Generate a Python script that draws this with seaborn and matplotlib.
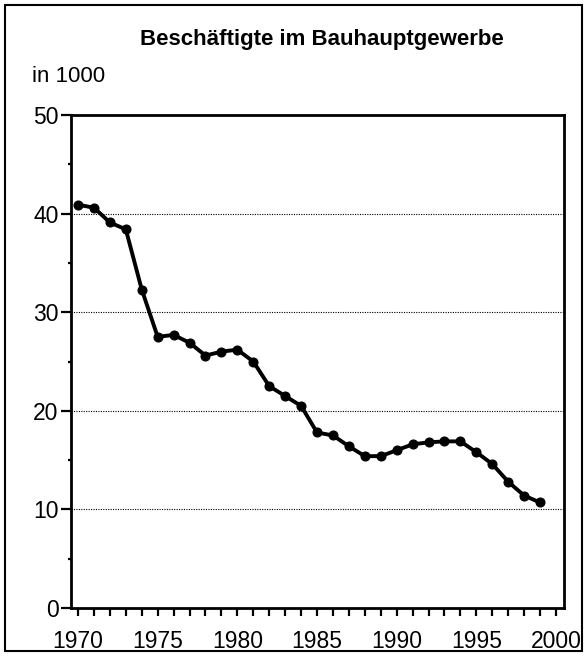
import matplotlib
matplotlib.use("Agg")
import matplotlib.pyplot as plt
import seaborn as sns
import pandas as pd
from matplotlib.patches import Rectangle
from matplotlib.ticker import MultipleLocator

years = list(range(1970, 2000))
employed = [40.9, 40.6, 39.1, 38.4, 32.3, 27.5, 27.7, 26.9, 25.6, 26.0,
            26.2, 25.0, 22.5, 21.5, 20.5, 17.8, 17.5, 16.4, 15.4, 15.4,
            16.0, 16.6, 16.8, 16.9, 16.9, 15.8, 14.6, 12.8, 11.4, 10.7]

title = "Beschäftigte im Bauhauptgewerbe"
unit_label = "in 1000"
y_ticks = [0, 10, 20, 30, 40, 50]
x_ticks = [1970, 1975, 1980, 1985, 1990, 1995, 2000]

df = pd.DataFrame({"Jahr": years, "Beschaeftigte": employed})

sns.set_style("ticks")
plt.rcParams["font.family"] = ["Liberation Sans", "DejaVu Sans"]
plt.rcParams["text.color"] = "black"
plt.rcParams["xtick.color"] = "black"
plt.rcParams["ytick.color"] = "black"

fig = plt.figure(figsize=(5.86, 6.56), dpi=100)
ax = fig.add_axes([71 / 586, 1 - 608 / 656, (564 - 71) / 586, (608 - 115) / 656])

sns.lineplot(data=df, x="Jahr", y="Beschaeftigte", ax=ax, color="black",
             linewidth=2.8, marker="o", markersize=6.5, markeredgecolor="black")

ax.set_xlim(1969.56, 2000.5)
ax.set_ylim(0, 50)
ax.set_xticks(x_ticks)
ax.set_yticks(y_ticks)
ax.xaxis.set_minor_locator(MultipleLocator(1))
ax.yaxis.set_minor_locator(MultipleLocator(5))
ax.set_xlabel("")
ax.set_ylabel("")

for v in y_ticks[1:-1]:
    ax.axhline(v, color="black", linestyle=(0, (1, 1.2)), linewidth=0.8, zorder=0)

for s in ax.spines.values():
    s.set_linewidth(2.0)
    s.set_color("black")
    s.set_visible(True)

ax.tick_params(axis="x", which="both", direction="out", length=6, width=1.6,
               labelsize=16.5, pad=10)
ax.tick_params(axis="y", which="major", direction="out", length=7, width=1.6,
               labelsize=16.5, pad=2)
ax.tick_params(axis="y", which="minor", direction="out", length=2, width=1.6)

fig.text(322 / 586, 1 - 40 / 656, title, ha="center", va="center",
         fontsize=16, fontweight="bold")
fig.text(32 / 586, 1 - 77 / 656, unit_label, ha="left", va="center", fontsize=16)

fig.patches.append(Rectangle((5 / 586, 5 / 656), 577 / 586, 646 / 656,
                             transform=fig.transFigure, fill=False,
                             edgecolor="black", linewidth=1.5))

fig.savefig("out.png", dpi=100)
